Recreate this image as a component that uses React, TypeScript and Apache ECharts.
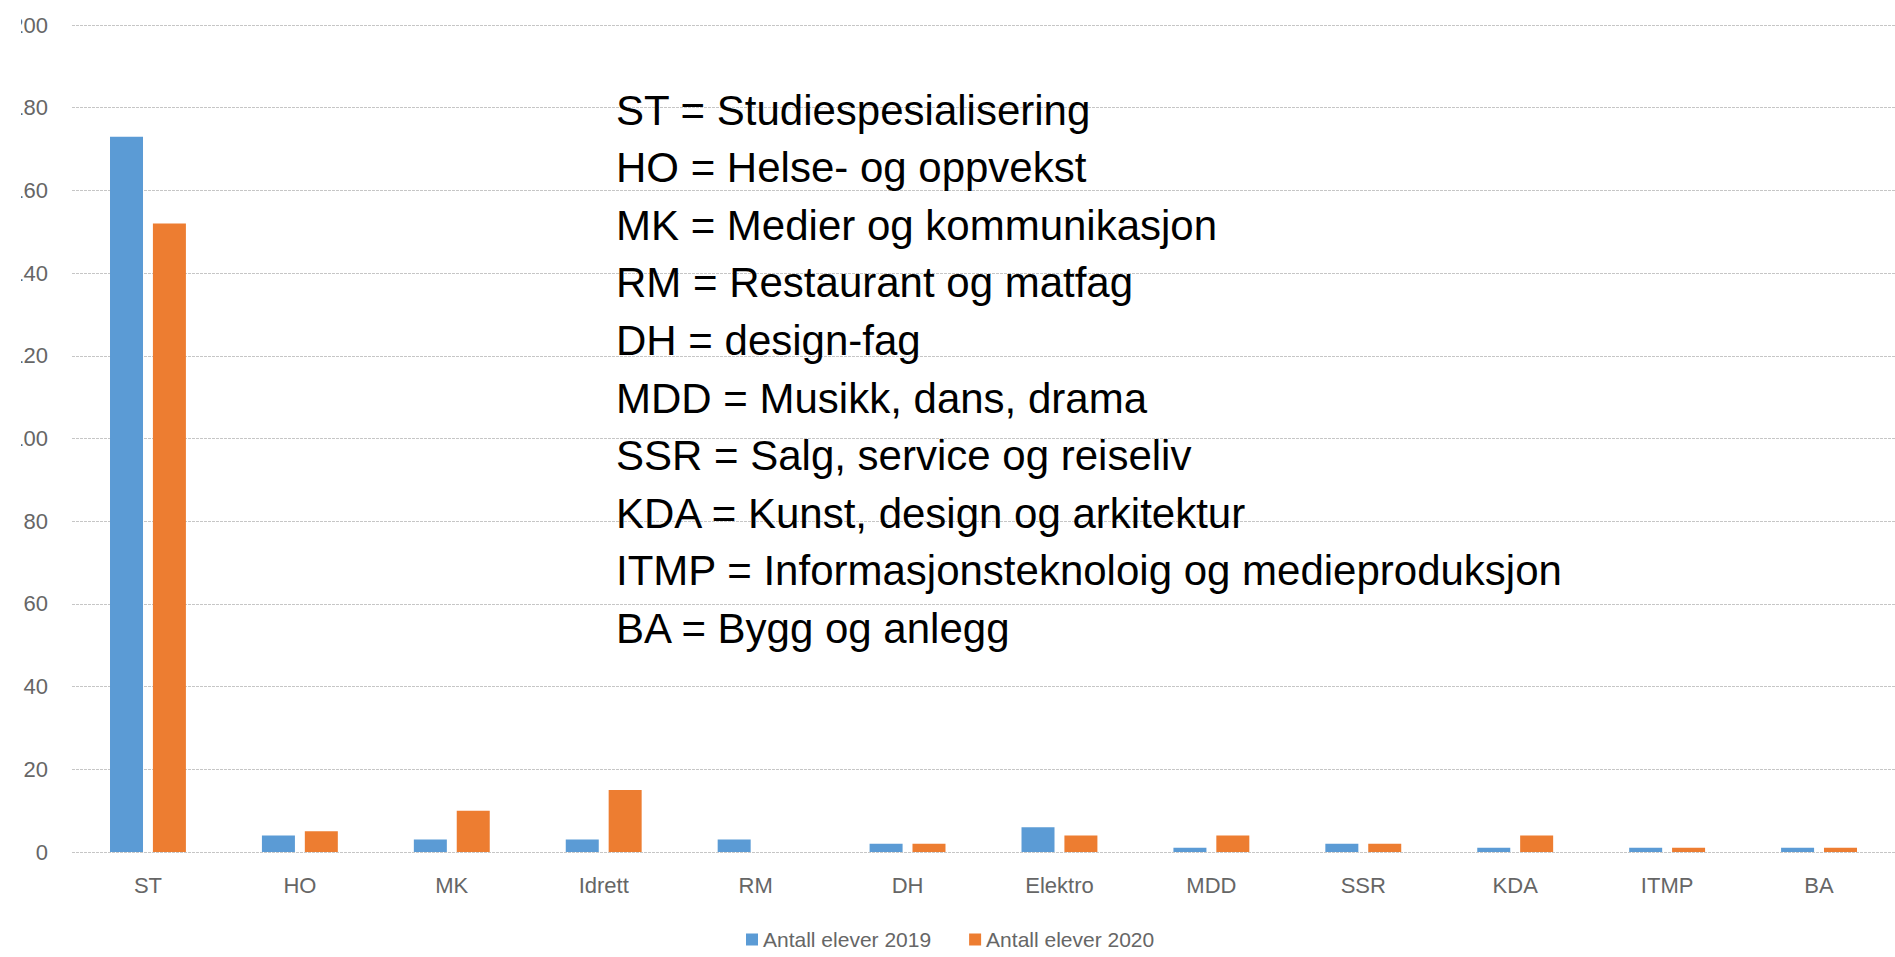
import React, { useEffect, useRef } from "react";
import * as echarts from "echarts";

const categories = ["ST", "HO", "MK", "Idrett", "RM", "DH", "Elektro", "MDD", "SSR", "KDA", "ITMP", "BA"];
const elever2019 = [173, 4, 3, 3, 3, 2, 6, 1, 2, 1, 1, 1];
const elever2020 = [152, 5, 10, 15, 0, 2, 4, 4, 2, 4, 1, 1];
const seriesNames = ["Antall elever 2019", "Antall elever 2020"];
const noteLines = [
  "ST = Studiespesialisering",
  "HO = Helse- og oppvekst",
  "MK = Medier og kommunikasjon",
  "RM = Restaurant og matfag",
  "DH = design-fag",
  "MDD = Musikk, dans, drama",
  "SSR = Salg, service og reiseliv",
  "KDA = Kunst, design og arkitektur",
  "ITMP = Informasjonsteknoloig og medieproduksjon",
  "BA = Bygg og anlegg",
];

const FONT = "'Liberation Sans', Arial, sans-serif";

export default function App() {
  const ref = useRef<HTMLDivElement>(null);
  useEffect(() => {
    if (!ref.current) return;
    const chart = echarts.init(ref.current, undefined, { renderer: "svg" });
    const graphics: any[] = noteLines.map((t, i) => ({
      type: "text",
      x: 616,
      y: 110 + i * 57.6,
      z: 50,
      style: {
        text: t,
        fill: "#000",
        font: `42px ${FONT}`,
        textVerticalAlign: "middle",
        textAlign: "left",
      },
    }));
    graphics.push({
      type: "rect",
      z: 100,
      shape: { x: 0, y: 0, width: 21, height: 880 },
      style: { fill: "#fff" },
    });
    chart.setOption({
      animation: false,
      backgroundColor: "#fff",
      textStyle: { fontFamily: FONT },
      grid: { left: 72, top: 25, width: 1828, height: 827, containLabel: false },
      xAxis: {
        type: "category",
        data: categories,
        axisLine: { show: false },
        axisTick: { show: false },
        axisLabel: { color: "#666666", fontSize: 22, margin: 22, fontFamily: FONT },
      },
      yAxis: {
        type: "value",
        min: 0,
        max: 200,
        interval: 20,
        axisLine: { show: false },
        axisTick: { show: false },
        axisLabel: { color: "#666666", fontSize: 22, margin: 24, fontFamily: FONT },
        splitLine: { lineStyle: { color: "#c6c6c6", width: 1, type: [3, 1] } },
      },
      legend: {
        left: 746,
        top: 929,
        padding: 0,
        itemWidth: 12,
        itemHeight: 12,
        itemGap: 38,
        icon: "rect",
        textStyle: { color: "#666666", fontSize: 21, fontFamily: FONT },
        data: seriesNames,
      },
      series: [
        {
          name: seriesNames[0],
          type: "bar",
          data: elever2019,
          barWidth: 33,
          barGap: "30%",
          itemStyle: { color: "#5B9BD5" },
        },
        {
          name: seriesNames[1],
          type: "bar",
          data: elever2020,
          barWidth: 33,
          barGap: "30%",
          itemStyle: { color: "#ED7D31" },
        },
      ],
      graphic: graphics,
    });
    return () => chart.dispose();
  }, []);
  return (
    <div style={{ position: "fixed", left: 0, top: 0, width: 1895, height: 957, overflow: "hidden", background: "#fff" }}>
      <div ref={ref} style={{ width: 1895, height: 957 }} />
    </div>
  );
}
